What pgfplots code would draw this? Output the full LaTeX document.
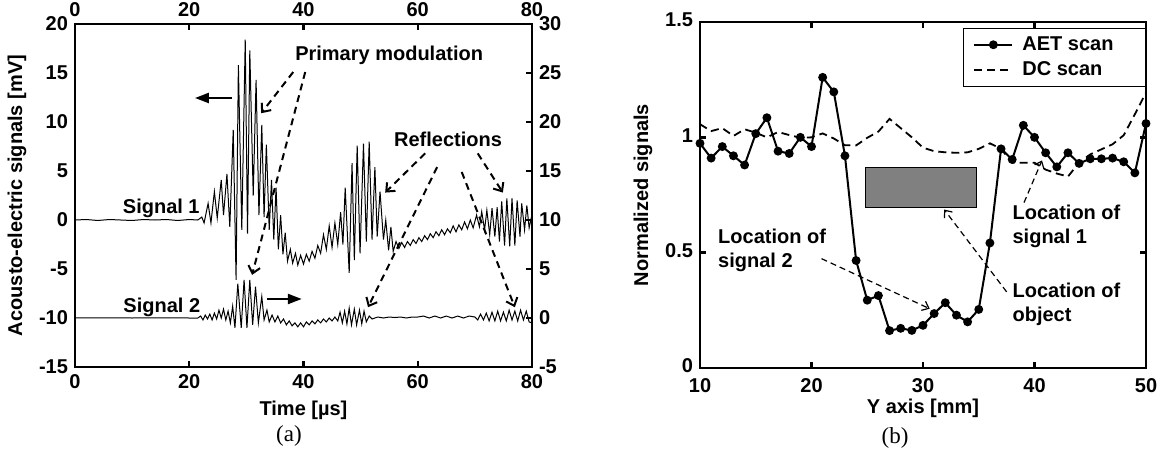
\documentclass[border=0pt]{standalone}
\usepackage{fontspec}
\setmainfont{Liberation Sans}
\newfontfamily\capfont{Liberation Serif}
\usepackage{pgfplots}
\pgfplotsset{compat=1.18}
\usetikzlibrary{arrows.meta}

\newcommand\bfont{\fontsize{10}{12}\selectfont\bfseries}

\pgfplotsset{
  panel/.style={
    scale only axis,
    tick label style={font=\bfont},
    /pgf/number format/assume math mode=true,
    label style={font=\bfont},
    axis line style={line width=1.4pt},
    major tick length=3pt,
    tick style={line width=1.2pt, black},
    clip mode=individual,
    scaled ticks=false,
  },
}
\tikzset{
  ann/.style={font=\bfont, inner sep=0pt},
  darr/.style={line width=1pt, dash pattern=on 3.5pt off 2.5pt,
    -{Straight Barb[length=3.5pt,width=6pt]}},
  tarr/.style={line width=0.6pt, dash pattern=on 3pt off 2pt,
    -{Straight Barb[length=3pt,width=5pt]}},
  sarr/.style={line width=1.2pt, -{Triangle[length=7pt,width=5pt]}},
}

\begin{document}
\begin{tikzpicture}
\path[use as bounding box] (0,0) rectangle (580.5pt,228pt);

% ---------- (a) left axis: signal 1 ----------
\begin{axis}[panel,
  at={(37.5pt,44.5pt)}, anchor=south west,
  width=228.5pt, height=171.5pt,
  xmin=0, xmax=80, ymin=-15, ymax=20,
  xtick={0,20,...,80}, ytick={-15,-10,...,20},
  xtick pos=left, ytick pos=left,
  tick align=inside,
  ytick style={draw=none},
  xlabel={Time [µs]}, ylabel={Acousto-electric signals [mV]},
  xlabel style={at={(axis description cs:0.5,-0.125)}, anchor=center},
  ylabel style={at={(axis description cs:-0.127,0.5)}, anchor=center},
]
\addplot[black, line width=0.5pt] coordinates {
  (0,0) (2,0.05) (4,-0.05) (6,0.05) (8,0) (10,-0.05) (12,0.05) (14,0)
  (16,0.05) (18,-0.05) (20,0.05) (21.5,0) (22.2,0.3) (22.6,-0.3)
  (23.3,1.7) (23.8,-0.3) (24.4,2.9) (24.9,0.2) (25.6,4.1) (26.0,0.5)
  (26.6,4.7) (27.1,-0.7) (27.7,9.2) (28.2,-6.1) (28.6,15.8) (29.2,-1.0)
  (29.8,18.4) (30.2,-1.4) (30.6,17.3) (31.2,2.5) (31.7,14.3) (32.2,0.5)
  (32.7,9.7) (33.1,0.3) (33.5,7.7) (34.0,-1.0) (34.4,4.1) (34.8,-2.0)
  (35.2,3.3) (35.6,-3.0) (36.0,0.5) (36.4,-3.5) (36.8,-1.3) (37.2,-4.2)
  (37.7,-3.0) (38.1,-4.4) (38.6,-3.4) (39.0,-4.6) (39.5,-3.6) (40.0,-4.5)
  (40.5,-3.5) (41.0,-4.2) (41.5,-3.2) (42.0,-3.9) (42.5,-2.6) (43.0,-3.4)
  (43.5,-1.5) (44.0,-3.0) (44.5,-0.6) (45.0,-2.8) (45.5,-0.3) (46.0,-2.5)
  (46.5,0.8) (46.9,-2.5) (47.3,3.3) (48.0,-5.4) (48.5,5.8) (48.9,-4.1)
  (49.4,7.6) (49.9,-3.4) (50.5,7.8) (51.0,-2.2) (51.5,8.0) (52.0,-2.0)
  (52.5,5.4) (52.9,-1.7) (53.4,2.9) (54.0,-2.0) (54.4,0.0) (54.9,-3.1)
  (55.3,-0.7) (55.7,-3.2) (56.2,-2.2) (56.7,-2.9) (57.2,-2.3) (57.7,-2.8)
  (58.2,-2.2) (58.7,-2.6) (59.2,-2.0) (59.7,-2.4) (60.2,-1.8) (60.7,-2.2)
  (61.2,-1.6) (61.7,-2.0) (62.2,-1.4) (62.7,-1.8) (63.2,-1.2) (63.7,-1.6)
  (64.2,-1.0) (64.7,-1.5) (65.2,-0.9) (65.7,-1.3) (66.2,-0.6) (66.7,-1.2)
  (67.2,-0.5) (67.7,-1.0) (68.2,-0.2) (68.7,-0.9) (69.2,0.0) (69.7,-0.8)
  (70.3,0.5) (70.8,-0.7) (71.2,0.85) (71.7,-1.0) (72.1,1.0) (72.6,-1.5)
  (73.0,1.2) (73.5,-1.7) (73.9,1.3) (74.3,-2.2) (74.7,1.9) (75.2,-2.6)
  (75.6,2.2) (76.1,-2.7) (76.5,2.2) (77.0,-2.6) (77.4,2.0) (77.9,-1.7)
  (78.2,1.7) (78.7,-1.0) (79.1,1.5) (79.5,-0.8) (79.9,0.3) (80,0)
};
% annotations
\node[ann] at (axis cs:55.0,16.8) {Primary modulation};
\draw[darr] (axis cs:38.2,15.1) -- (axis cs:32.6,10.9);
\draw[darr] (axis cs:40.3,15.1) -- (axis cs:31.0,-5.6);
\node[ann] at (axis cs:65.3,8.2) {Reflections};
\draw[darr] (axis cs:61.3,6.8) -- (axis cs:54.3,2.8);
\draw[darr] (axis cs:63.4,5.4) -- (axis cs:51.3,-8.9);
\draw[darr] (axis cs:67.7,4.9) -- (axis cs:77.0,-8.9);
\draw[darr] (axis cs:70.5,6.8) -- (axis cs:74.9,2.8);
\draw[sarr] (axis cs:27.5,12.45) -- (axis cs:21.0,12.45);
\draw[sarr] (axis cs:33.6,-8.06) -- (axis cs:39.7,-8.06);
\node[ann] at (axis cs:15.1,1.2) {Signal 1};
\node[ann] at (axis cs:15.2,-8.9) {Signal 2};
\end{axis}

% ---------- (a) right axis: signal 2 ----------
\begin{axis}[panel,
  at={(37.5pt,44.5pt)}, anchor=south west,
  width=228.5pt, height=171.5pt,
  xmin=0, xmax=80, ymin=-5, ymax=30,
  axis x line*=top, axis y line*=right,
  tick align=inside,
  xtick={0,20,...,80}, ytick={-5,0,...,30},
]
\addplot[black, line width=0.5pt] coordinates {
  (0,0) (5,0.02) (10,0) (15,0.02) (20,0) (21.5,0) (22.0,0.2) (22.4,-0.2)
  (22.8,0.3) (23.2,-0.1) (23.6,0.4) (24.0,-0.2) (24.4,0.5) (24.8,-0.1)
  (25.2,0.8) (25.6,0) (26.0,0.9) (26.4,-0.2) (26.8,0.7) (27.2,-0.5)
  (27.6,1.2) (28.0,-1.0) (28.5,3.5) (29.1,-1.0) (29.6,3.9) (30.1,-1.0)
  (30.6,3.9) (31.1,-0.7) (31.6,3.2) (32.1,-0.5) (32.7,2.2) (33.1,-0.2)
  (33.6,0.8) (34.0,-0.4) (34.5,0.3) (35.0,-0.4) (35.5,0.2) (36.0,-0.5)
  (36.5,-0.1) (37.0,-0.7) (37.5,-0.3) (38.0,-0.8) (38.5,-0.5) (39.0,-0.9)
  (39.5,-0.5) (40.0,-0.9) (40.5,-0.4) (41.0,-0.7) (41.5,-0.3) (42.0,-0.6)
  (42.5,-0.2) (43.0,-0.5) (43.5,-0.1) (44.0,-0.4) (44.5,0.0) (45.0,-0.3)
  (45.5,0.1) (46.0,-0.3) (46.4,0.6) (46.8,-0.5) (47.2,0.7) (47.6,-0.6)
  (48.0,1.0) (48.4,-0.7) (48.9,0.9) (49.3,-0.7) (49.8,0.8) (50.2,-0.6)
  (50.6,0.7) (51.0,-0.4) (51.5,0.2) (52.0,-0.1) (53,0.1) (54,0.0)
  (55,0.1) (56,0.05) (57,0.1) (58,0.0) (59,0.1) (60,0.1) (61,0.2)
  (62,0.0) (63,0.2) (64,0.0) (65,0.2) (66,0.0) (67,0.2) (68,0.0) (69,0.2)
  (70,0.1) (70.5,-0.2) (71,0.4) (71.5,-0.2) (72,0.5) (72.5,-0.3) (73,0.6)
  (73.5,-0.3) (74,0.7) (74.5,-0.3) (75,0.6) (75.5,-0.3) (76,0.8)
  (76.5,-0.2) (77,0.7) (77.5,-0.3) (78,0.8) (78.5,-0.2) (79,0.7)
  (79.5,-0.4) (80,-0.5)
};
\end{axis}

% ---------- (b) ----------
\begin{axis}[panel,
  at={(350pt,44pt)}, anchor=south west,
  width=223pt, height=173pt,
  xmin=10, xmax=50, ymin=0, ymax=1.5,
  xtick={10,20,...,50}, ytick={0,0.5,1,1.5},
  tick align=inside,
  xticklabel style={yshift=-1.5pt},
  yticklabel style={yshift=1pt},
  xlabel={Y axis [mm]}, ylabel={Normalized signals},
  xlabel style={at={(axis description cs:0.5,-0.116)}, anchor=center},
  ylabel style={at={(axis description cs:-0.128,0.5)}, anchor=center},
  legend style={at={(1,0.983)}, anchor=north east, draw=black,
    line width=0.5pt, font=\bfont, inner xsep=5pt, inner ysep=2pt,
    row sep=0pt, cells={anchor=west},
    /tikz/every even column/.append style={column sep=0pt}},
  legend image code/.code={%
    \draw[mark repeat=2, mark phase=2, #1]
      plot coordinates {(0pt,0pt) (9.5pt,0pt) (19pt,0pt)};},
]
\filldraw[fill=black!50, draw=black, line width=0.5pt]
  (axis cs:24.8,0.696) rectangle (axis cs:34.8,0.87);
\addplot[black, line width=1pt, mark=*, mark size=1.7pt] coordinates {
  (10,0.974) (11,0.91) (12,0.96) (13,0.92) (14,0.88) (15,1.016)
  (16,1.085) (17,0.94) (18,0.93) (19,1.0) (20,0.96) (21,1.26)
  (22,1.197) (23,0.92) (24,0.466) (25,0.294) (26,0.314) (27,0.162)
  (28,0.172) (29,0.163) (30,0.185) (31,0.236) (32,0.283) (33,0.229)
  (34,0.2) (35,0.254) (36,0.542) (37,0.95) (38,0.904) (39,1.052)
  (40,1.0) (41,0.933) (42,0.872) (43,0.933) (44,0.887) (45,0.907)
  (46,0.907) (47,0.91) (48,0.894) (49,0.846) (50,1.06)
};
\addlegendentry{\hspace*{2.5pt}AET scan\hspace*{9pt}}
\addplot[black, line width=0.9pt, dash pattern=on 4pt off 2.5pt] coordinates {
  (10,1.057) (11,1.027) (12,1.04) (13,1.006) (14,1.035) (15,1.02)
  (16,1.0) (17,1.023) (18,1.01) (19,0.998) (20,1.0) (21,1.017)
  (22,0.995) (23,0.966) (24,0.965) (25,0.998) (26,1.025) (27,1.08)
  (28,1.04) (29,1.0) (30,0.955) (31,0.94) (32,0.935) (33,0.933)
  (34,0.935) (35,0.95) (36,0.974) (37,0.95) (38,0.89) (39,0.89)
  (40,0.89) (41,0.86) (42,0.843) (43,0.83) (44,0.89) (45,0.926)
  (46,0.948) (47,0.97) (48,1.009) (49,1.1) (50,1.194)
};
\addlegendentry{\hspace*{2.5pt}DC scan}
\node[ann, align=left, anchor=west] at (axis cs:11.6,0.51) {Location of\\signal 2};
\draw[tarr] (axis cs:20.9,0.474) -- (axis cs:30.6,0.257);
\node[ann, align=left, anchor=west] at (axis cs:38.0,0.613) {Location of\\signal 1};
\draw[tarr] (axis cs:39.06,0.717) -- (axis cs:40.67,0.9);
\node[ann, align=left, anchor=west] at (axis cs:38.0,0.278) {Location of\\object};
\draw[tarr] (axis cs:37.5,0.33) -- (axis cs:31.9,0.687);
\end{axis}

\node[font=\capfont\fontsize{11.5}{13}\selectfont] at (144.5pt,10pt) {(a)};
\node[font=\capfont\fontsize{11.5}{13}\selectfont] at (447.5pt,9pt) {(b)};
\end{tikzpicture}
\end{document}
